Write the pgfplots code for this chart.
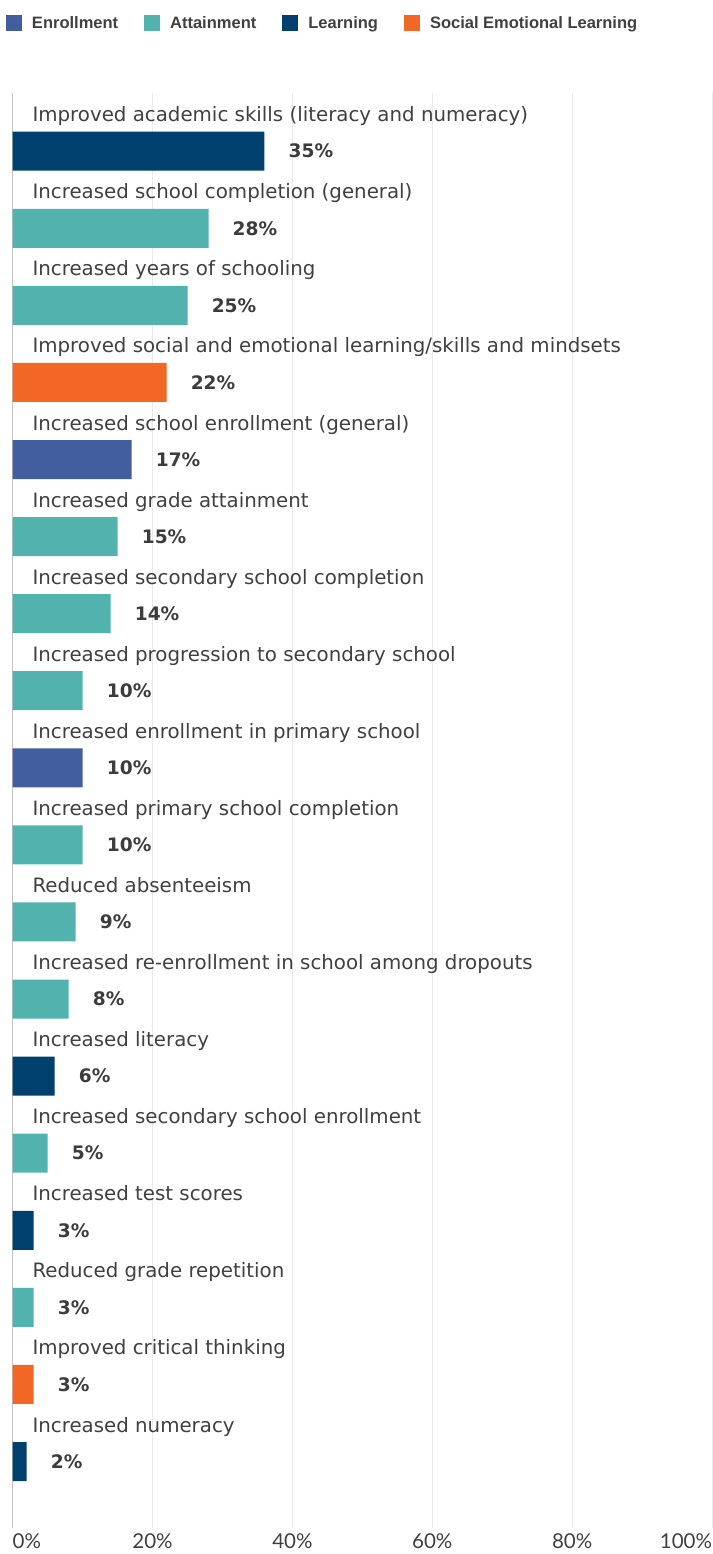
\documentclass[border=0pt]{standalone}
\usepackage{fontspec}
\setmainfont{DejaVu Sans}
\newfontfamily\legfont{Liberation Sans}
\newfontfamily\latofont{Lato}
\usepackage{pgfplots}
\pgfplotsset{compat=1.18}
\definecolor{cEnr}{HTML}{435E9F}
\definecolor{cAtt}{HTML}{52B2AD}
\definecolor{cLea}{HTML}{00406E}
\definecolor{cSel}{HTML}{F36724}
\definecolor{textgray}{HTML}{404040}
\definecolor{valgray}{HTML}{3C3C3C}
\definecolor{gridgray}{HTML}{EAEAEA}
\definecolor{axisgray}{HTML}{C4C4C4}
\pgfplotsset{sqleg/.style={legend image code/.code={\fill[##1] (0pt,-8pt) rectangle (16pt,8pt);}}}
\begin{document}
\begin{tikzpicture}
\begin{axis}[
  name=ax,
  scale only axis,
  width=699.3pt, height=1435pt,
  xmin=0, xmax=100,
  ymin=-0.755, ymax=17.863,
  y dir=reverse,
  xbar, bar width=39pt, bar shift=0pt,
  axis line style={draw=none},
  major tick length=0pt,
  xtick={0,20,40,60,80,100},
  xticklabels={\rlap{0\%},20\%,40\%,60\%,80\%,\llap{100\%}},
  xticklabel style={font=\latofont\fontsize{20.5}{24}\selectfont, text=textgray, yshift=-2.5pt},
  xmajorgrids,
  major grid style={draw=gridgray, line width=1pt},
  extra x ticks={0}, extra x tick labels={},
  extra x tick style={grid=major, major grid style={draw=axisgray, line width=1.4pt}},
  ytick={0,...,17},
  yticklabels={
    Improved academic skills (literacy and numeracy),
    Increased school completion (general),
    Increased years of schooling,
    Improved social and emotional learning/skills and mindsets,
    Increased school enrollment (general),
    Increased grade attainment,
    Increased secondary school completion,
    Increased progression to secondary school,
    Increased enrollment in primary school,
    Increased primary school completion,
    Reduced absenteeism,
    Increased re-enrollment in school among dropouts,
    Increased literacy,
    Increased secondary school enrollment,
    Increased test scores,
    Reduced grade repetition,
    Improved critical thinking,
    Increased numeracy},
  yticklabel style={anchor=base west, xshift=16.3pt, yshift=29.5pt, font=\fontsize{19.8}{23}\selectfont, text=textgray},
  point meta=explicit symbolic,
  nodes near coords={\pgfplotspointmeta\%},
  nodes near coords style={anchor=west, xshift=20.7pt, font=\bfseries\fontsize{18.6}{21}\selectfont, text=valgray},
  legend columns=4,
  legend style={at={(0,1)}, anchor=north west, xshift=-6.7pt, yshift=78pt,
    draw=none, fill=none, inner sep=0pt, outer sep=0pt,
    font=\legfont\bfseries\fontsize{16.5}{18}\selectfont, text=textgray,
    nodes={inner sep=0pt},
    /tikz/every odd column/.append style={column sep=10pt},
    /tikz/every even column/.append style={column sep=26pt}},
]
\addplot[fill=cEnr, draw=none, sqleg] coordinates {(17,4) [17] (10,8) [10]};
\addlegendentry{Enrollment}
\addplot[fill=cAtt, draw=none, sqleg] coordinates {(28,1) [28] (25,2) [25] (15,5) [15] (14,6) [14] (10,7) [10] (10,9) [10] (9,10) [9] (8,11) [8] (5,13) [5] (3,15) [3]};
\addlegendentry{Attainment}
\addplot[fill=cLea, draw=none, sqleg] coordinates {(36,0) [35] (6,12) [6] (3,14) [3] (2,17) [2]};
\addlegendentry{Learning}
\addplot[fill=cSel, draw=none, sqleg] coordinates {(22,3) [22] (3,16) [3]};
\addlegendentry{Social Emotional Learning}
\end{axis}
\pgfresetboundingbox
\path[use as bounding box] ([xshift=-12.7pt,yshift=-26pt]ax.south west) rectangle ([xshift=1pt,yshift=93pt]ax.north east);
\end{tikzpicture}
\end{document}
